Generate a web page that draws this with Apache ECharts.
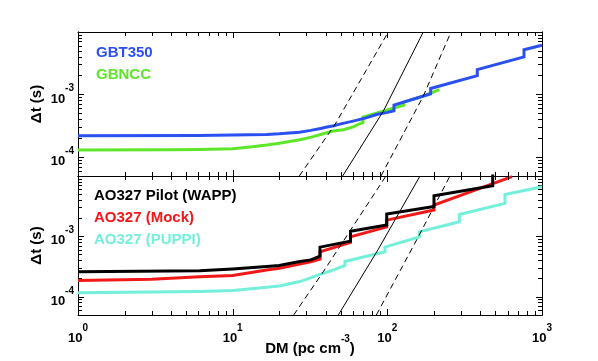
<!DOCTYPE html>
<html>
<head>
<meta charset="utf-8">
<title>Delta t vs DM</title>
<script src="https://cdn.jsdelivr.net/npm/echarts@6/dist/echarts.min.js"></script>
<style>
html, body { margin: 0; padding: 0; background: #fff; }
#chart { width: 598px; height: 361px; }
</style>
</head>
<body>
<div id="chart"></div>
<script>
"use strict";
var FONT = "Liberation Sans, Arial, Helvetica, sans-serif";

// axis ranges and decade ticks
var dmRange = [1, 1000];
var dtRange = [5e-5, 1e-2];
var dmDecades = [1, 10, 100, 1000];
var dtDecades = [1e-4, 1e-3, 1e-2];

// top panel: GBT 350 MHz surveys
var gbt350DM = [1, 6, 10, 16.6, 20, 27, 32, 37, 40, 45, 50, 60, 73, 85, 100, 110.4, 110.4, 190.6, 190.6, 381.6, 381.6, 764.7, 764.7, 1000];
var gbt350Dt = [2.20e-4, 2.22e-4, 2.26e-4, 2.30e-4, 2.36e-4, 2.51e-4, 2.68e-4, 2.88e-4, 3.0e-4, 3.18e-4, 3.40e-4, 3.77e-4, 4.25e-4, 4.8e-4, 5.2e-4, 5.5e-4, 6.78e-4, 1.03e-3, 1.25e-3, 2.01e-3, 2.51e-3, 3.99e-3, 5.22e-3, 6.14e-3];
var gbnccDM = [1, 4, 6.1, 10, 13, 16.6, 20, 27.2, 32.3, 38, 44.6, 52, 60, 69.6, 69.6, 94, 128, 128, 170, 217];
var gbnccDt = [1.30e-4, 1.31e-4, 1.32e-4, 1.36e-4, 1.45e-4, 1.56e-4, 1.67e-4, 1.90e-4, 2.09e-4, 2.35e-4, 2.62e-4, 2.74e-4, 3.05e-4, 3.6e-4, 4.36e-4, 5.43e-4, 6.8e-4, 7.6e-4, 9.4e-4, 1.20e-3];

// bottom panel: Arecibo 327 MHz
var wappDM = [1, 6.1, 10, 16.6, 20, 27.2, 32, 36.7, 36.7, 57.8, 57.8, 99.1, 99.1, 200.3, 200.3, 480, 480, 1000];
var wappDt = [2.59e-4, 2.70e-4, 2.90e-4, 3.17e-4, 3.31e-4, 3.85e-4, 4.09e-4, 4.70e-4, 6.65e-4, 8.36e-4, 1.22e-3, 1.54e-3, 2.34e-3, 3.13e-3, 4.71e-3, 6.90e-3, 1.2e-2, 1.5e-2];
var mockDM = [1, 3, 6.1, 10, 16.6, 20, 27.2, 32, 36.7, 36.7, 57.8, 57.8, 99.1, 99.1, 200.3, 200.3, 640];
var mockDt = [1.86e-4, 1.95e-4, 2.14e-4, 2.26e-4, 2.79e-4, 2.96e-4, 3.48e-4, 3.79e-4, 4.21e-4, 5.56e-4, 7.93e-4, 9.84e-4, 1.44e-3, 1.86e-3, 2.73e-3, 3.30e-3, 9.75e-3];
var puppiDM = [1, 6.1, 10.1, 16.6, 20, 27.2, 36, 45, 53.2, 53.2, 96.6, 96.6, 161, 161, 292, 292, 576, 576, 1000];
var puppiDt = [1.17e-4, 1.22e-4, 1.27e-4, 1.44e-4, 1.51e-4, 1.79e-4, 2.31e-4, 2.79e-4, 3.3e-4, 3.85e-4, 5.56e-4, 6.65e-4, 9.84e-4, 1.19e-3, 1.75e-3, 2.31e-3, 3.52e-3, 4.95e-3, 6.65e-3];

// scattering time, mean relation and its scatter
var scatTopDM = [51.4, 94.2, 170.8];
var scatTopDt = [5e-5, 5.43e-4, 1e-2];
var scatTopLoDM = [26.97, 45.9, 101.4];
var scatTopLoDt = [5e-5, 3.33e-4, 1e-2];
var scatTopHiDM = [91.0, 170.8, 258];
var scatTopHiDt = [5e-5, 9.44e-4, 1e-2];
var scatBotDM = [48.2, 87.0, 162.6];
var scatBotDt = [5e-5, 6.0e-4, 1e-2];
var scatBotLoDM = [24.8, 38.5, 98.0];
var scatBotLoDt = [5e-5, 2.59e-4, 1e-2];
var scatBotHiDM = [84.9, 158.6, 254];
var scatBotHiDt = [5e-5, 9.84e-4, 1e-2];

var lg = function (v) { return Math.log10(v); };
var pairs = function (xs, ys) { return xs.map(function (x, i) { return [lg(x), lg(ys[i])]; }); };
var minors = function (range) {
    var out = [];
    for (var e = Math.floor(lg(range[0])); e < Math.ceil(lg(range[1])); e++) {
        for (var k = 2; k <= 9; k++) {
            var v = k * Math.pow(10, e);
            if (v >= range[0] * 0.999 && v <= range[1] * 1.001) out.push(Math.max(lg(range[0]), lg(v)));
        }
    }
    return out;
};

var grids = [
    { left: 78, top: 32, width: 464, height: 144 },
    { left: 78, top: 176, width: 464, height: 139 }
];

var labelRich = {
    b: { fontSize: 13, fontWeight: "bold", fontFamily: FONT, color: "#000", lineHeight: 22, verticalAlign: "bottom" },
    s: { fontSize: 10, fontWeight: "bold", fontFamily: FONT, color: "#000", lineHeight: 10, verticalAlign: "top" }
};
var powLabel = function (v) { return "{b|10}{s|" + Math.round(v) + "}"; };

function frameAxis(gridIndex, position, range, ticks, tickLen) {
    return {
        type: "value",
        gridIndex: gridIndex,
        position: position,
        min: lg(range[0]),
        max: lg(range[1]),
        axisLine: { show: true, onZero: false, lineStyle: { color: "#000", width: 1 } },
        axisTick: { show: true, inside: true, length: tickLen, customValues: ticks, lineStyle: { color: "#000", width: 1 } },
        axisLabel: { show: false },
        splitLine: { show: false }
    };
}

var xAxes = [], yAxes = [];
[0, 1].forEach(function (g) {
    var xMain = frameAxis(g, "bottom", dmRange, dmDecades.map(lg), 6);
    var yMain = frameAxis(g, "left", dtRange, dtDecades.map(lg), 6);
    yMain.axisLabel = {
        show: true, margin: 4, customValues: [lg(1e-4), lg(1e-3)],
        formatter: powLabel, rich: labelRich
    };
    yMain.name = "\u0394t (s)";
    yMain.nameLocation = "middle";
    yMain.nameRotate = 90;
    yMain.nameGap = 34;
    yMain.nameMoveOverlap = false;
    yMain.nameTextStyle = { fontSize: 15, fontWeight: "bold", fontFamily: FONT, color: "#000" };
    if (g === 1) {
        xMain.axisLabel = {
            show: true, margin: 8, customValues: dmDecades.map(lg),
            formatter: powLabel, rich: labelRich
        };
        xMain.name = "{a|DM (pc cm}{s|-3}{a|)}";
        xMain.nameLocation = "middle";
        xMain.nameGap = 19;
        xMain.nameMoveOverlap = false;
        xMain.nameTextStyle = {
            rich: {
                a: { fontSize: 15, fontWeight: "bold", fontFamily: FONT, color: "#000", lineHeight: 22, verticalAlign: "bottom" },
                s: { fontSize: 10, fontWeight: "bold", fontFamily: FONT, color: "#000", lineHeight: 10, verticalAlign: "top" }
            }
        };
    }
    // x ticks are drawn by the tick series below
    xMain.axisTick = { show: false };
    var xTop = frameAxis(g, "top", dmRange, [], 6);
    xTop.axisTick = { show: false };
    xAxes.push(xMain, xTop);
    yAxes.push(yMain,
        frameAxis(g, "left", dtRange, minors(dtRange), 4),
        frameAxis(g, "right", dtRange, dtDecades.map(lg), 6),
        frameAxis(g, "right", dtRange, minors(dtRange), 4));
});

function curve(name, g, xs, ys, color, width, dash, z) {
    return {
        type: "line",
        name: name,
        xAxisIndex: g * 2,
        yAxisIndex: g * 4,
        data: pairs(xs, ys),
        showSymbol: false,
        symbol: "none",
        silent: true,
        z: z,
        lineStyle: { color: color, width: width, type: dash || "solid", join: "miter", cap: "butt" }
    };
}

// DM ticks on the bottom and top edges of a panel, placed through the x scale
function dmTicks(g, values, len) {
    return {
        type: "custom",
        xAxisIndex: g * 2,
        yAxisIndex: g * 4,
        silent: true,
        clip: false,
        z: 10,
        data: values.map(function (v) { return [v, lg(dtRange[0])]; }),
        renderItem: function (params, api) {
            var lo = api.coord([api.value(0), lg(dtRange[0])]);
            var hi = api.coord([api.value(0), lg(dtRange[1])]);
            var x = Math.round(lo[0]) + 0.5;
            var st = { stroke: "#000", lineWidth: 1 };
            return {
                type: "group",
                children: [
                    { type: "line", shape: { x1: x, y1: lo[1], x2: x, y2: lo[1] - len }, style: st },
                    { type: "line", shape: { x1: x, y1: hi[1], x2: x, y2: hi[1] + len }, style: st }
                ]
            };
        }
    };
}

var BLUE = "#2b50f2", GREEN = "#5ee628", RED = "#f21818", CYAN = "#74f0da";

var series = [
    curve("GBNCC", 0, gbnccDM, gbnccDt, GREEN, 3, null, 2),
    curve("GBT350", 0, gbt350DM, gbt350Dt, BLUE, 3, null, 3),
    curve("scat", 0, scatTopDM, scatTopDt, "#000", 1, null, 4),
    curve("scatLo", 0, scatTopLoDM, scatTopLoDt, "#000", 1, [6, 4], 4),
    curve("scatHi", 0, scatTopHiDM, scatTopHiDt, "#000", 1, [6, 4], 4),
    curve("AO327 (PUPPI)", 1, puppiDM, puppiDt, CYAN, 3, null, 2),
    curve("AO327 (Mock)", 1, mockDM, mockDt, RED, 3, null, 2),
    curve("AO327 Pilot (WAPP)", 1, wappDM, wappDt, "#000", 3, null, 3),
    curve("scat", 1, scatBotDM, scatBotDt, "#000", 1, null, 4),
    curve("scatLo", 1, scatBotLoDM, scatBotLoDt, "#000", 1, [6, 4], 4),
    curve("scatHi", 1, scatBotHiDM, scatBotHiDt, "#000", 1, [6, 4], 4),
    dmTicks(0, dmDecades.map(lg), 6),
    dmTicks(0, minors(dmRange), 4),
    dmTicks(1, dmDecades.map(lg), 6),
    dmTicks(1, minors(dmRange), 4)
];

// in-panel labels
var labelNames = ["GBT350", "GBNCC", "AO327 Pilot (WAPP)", "AO327 (Mock)", "AO327 (PUPPI)"];
var labelColors = [BLUE, GREEN, "#000", RED, CYAN];
var labelPos = [[96, 45], [96, 67], [94, 188], [94, 210.5], [94, 232.5]];

var graphic = labelNames.map(function (t, i) {
    return {
        type: "text",
        left: labelPos[i][0],
        top: labelPos[i][1],
        style: { text: t, fill: labelColors[i], font: "bold 15px " + FONT }
    };
});

var chart = echarts.init(document.getElementById("chart"), null, { renderer: "canvas" });
chart.setOption({
    animation: false,
    backgroundColor: "#fff",
    grid: grids.map(function (g) { return Object.assign({ outerBoundsMode: "none" }, g); }),
    xAxis: xAxes,
    yAxis: yAxes,
    series: series,
    graphic: graphic
});
</script>
</body>
</html>
